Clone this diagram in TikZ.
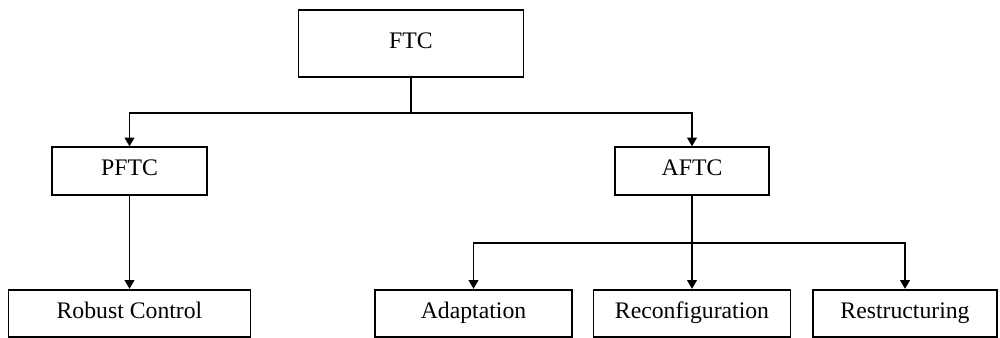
\documentclass[tikz,border=0pt]{standalone}
\usepackage{fontspec}
\setmainfont{Liberation Serif}
\usetikzlibrary{arrows.meta}

\begin{document}
\begin{tikzpicture}[
    box/.style={draw, rectangle, line width=1pt, fill=white, minimum height=0.95cm, align=center, font=\fontsize{13.5}{16}\selectfont, text height=1.6ex, text depth=0.45ex, inner sep=2pt},
    arr/.style={line width=1pt, -{Triangle[length=5pt, width=5.5pt]}},
    lnk/.style={line width=1pt}
]
\useasboundingbox (0,0) rectangle (20,6.76);

% Racine
\node[box, minimum width=4.5cm, minimum height=1.34cm] (ftc) at (8.22, 5.89) {FTC};

% Deuxieme niveau
\node[box, minimum width=3.1cm] (pftc) at (2.59, 3.34) {PFTC};
\node[box, minimum width=3.08cm] (aftc) at (13.84, 3.34) {AFTC};

% Troisieme niveau
\node[box, minimum width=4.84cm] (robust) at (2.59, 0.49) {Robust Control};
\node[box, minimum width=3.94cm] (adapt) at (9.47, 0.49) {Adaptation};
\node[box, minimum width=3.94cm] (reconf) at (13.84, 0.49) {Reconfiguration};
\node[box, minimum width=3.68cm] (restr) at (18.1, 0.49) {Restructuring};

% Liaisons
\coordinate (top) at (8.22, 4.5);
\coordinate (bot) at (13.84, 1.9);
\draw[lnk] (ftc.south) -- (top);
\draw[arr] (top) -| (pftc.north);
\draw[arr] (top) -| (aftc.north);
\draw[arr] (pftc.south) -- (robust.north);
\draw[arr] (aftc.south) -- (reconf.north);
\draw[arr] (bot) -| (adapt.north);
\draw[arr] (bot) -| (restr.north);
\end{tikzpicture}
\end{document}
